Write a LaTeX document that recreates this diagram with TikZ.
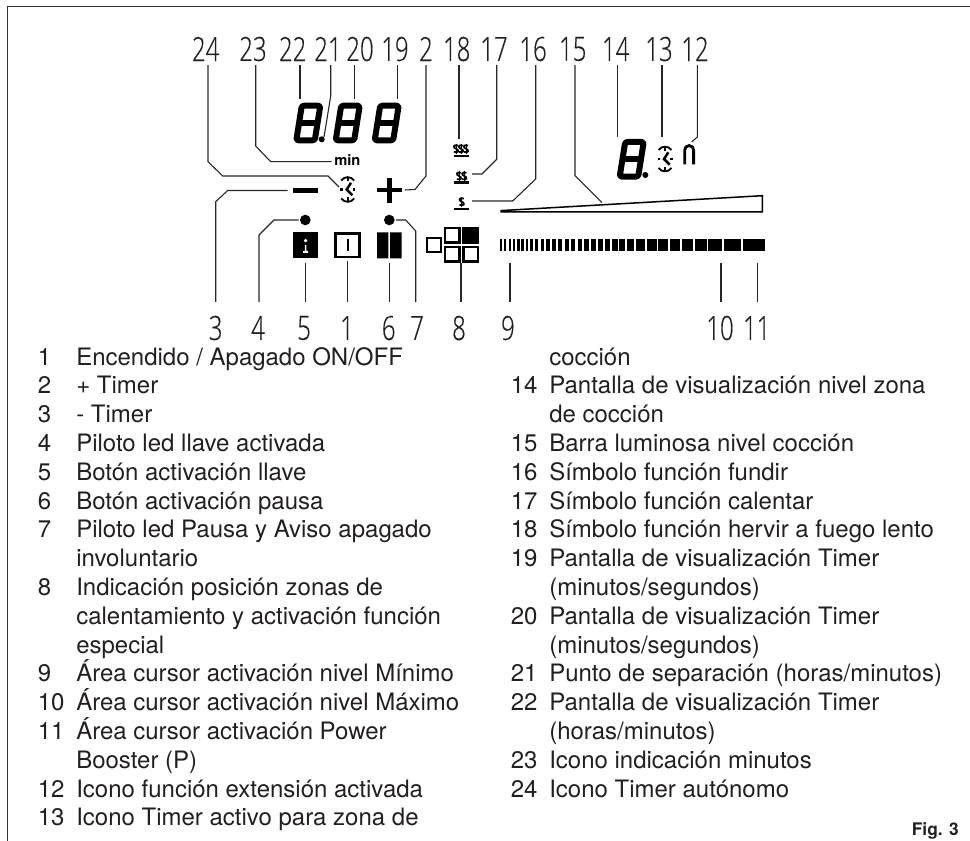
\documentclass[tikz,border=0pt]{standalone}
\usepackage{fontspec}
\setmainfont{TeX Gyre Heros}
\newfontfamily\callfont[FakeStretch=0.72, FakeBold=0.4]{Open Sans Light}
\usetikzlibrary{positioning}
\def\px{0.75pt}
\definecolor{tinta}{HTML}{231F20}
\tikzset{
  % marco de la figura
  marco/.style={line width=1.5*\px, black!80},
  % numeros de referencia
  callnum/.style={font=\callfont\fontsize{25}{25}\selectfont, inner sep=0pt, text=tinta},
  calltop/.style={callnum, outer sep=4*\px},
  callbot/.style={callnum, outer sep=14*\px},
  % lineas de referencia
  leader/.style={line width=1.1*\px, black!85},
  % lista de textos
  listnum/.style={anchor=base west, inner sep=0pt, font=\fontsize{18}{18}\selectfont, text=tinta},
  listtxt/.style={listnum},
  % iconos del panel
  solido/.style={fill=black, inner sep=0pt, draw=none},
  cuadro/.style={draw=black, fill=white, line width=2.3*\px, inner sep=0pt},
  led/.style={circle, fill=black, inner sep=0pt, minimum size=10.6*\px, outer sep=1.5*\px},
  seg/.style={line width=6*\px, rounded corners=2.2*\px, line join=round},
  ocho/.pic={
    \draw[seg] (8.5,3) -- (27,3) -- (21.5,37.6) -- (3,37.6) -- cycle;
    \draw[seg] (5.6,20.2) -- (24.3,20.2);
  },
  reloj/.pic={
    \draw[line width=1.8*\px] (-6.5,-9) .. controls (-3,-13.5) and (3,-13.5) .. (6.5,-9);
    \draw[line width=1.8*\px] (-6.5,9) .. controls (-3,13.5) and (3,13.5) .. (6.5,9);
    \draw[line width=1.8*\px] (0,-12) -- (0,-8) (0,12) -- (0,8);
    \draw[line width=2.2*\px] (-7.5,0) -- (-5.2,0) (5,0) -- (7.5,0);
    \draw[line width=2.5*\px] (3.3,-6.7) -- (-1,0) -- (4.7,5.7);
  },
  vapor/.pic={
    \draw[line width=1.8*\px] (2.2,-3.2) .. controls (-3.2,-4.6) and (-3,-1) .. (0,0) .. controls (3,1) and (3.2,4.6) .. (-2.2,3.2);
    \draw[line width=1*\px] (0,-5) -- (0,5);
  },
}
\begin{document}
\begin{tikzpicture}[x=\px, y=-\px]
  \useasboundingbox (0,0) rectangle (970,841);
  \draw[marco] (970,6.5) -- (7.5,6.5) -- (7.5,841);

  % numeros arriba y abajo
  \foreach \nr/\x in {24/205.7, 23/253, 22/292.7, 21/328, 20/360, 19/395, 2/426, 18/456.7,
    17/494, 16/533, 15/572.7, 14/615.7, 13/659, 12/695} {
    \node[calltop] (n\nr) at (\x,49) {\nr};
  }
  \foreach \nr/\x in {3/215.7, 4/258, 5/304, 1/347, 6/388.7, 7/417, 8/459, 9/508, 10/720, 11/756.7} {
    \node[callbot] (n\nr) at (\x,328) {\nr};
  }

  % pantallas
  \pic at (293.3,102.7) {ocho};
  \pic at (332.7,102.7) {ocho};
  \pic at (371.7,102.7) {ocho};
  \pic at (616.7,139) {ocho};
  \node[circle, fill=black, inner sep=0pt, minimum size=6*\px] (punto21) at (321.7,139.3) {};
  \node[circle, fill=black, inner sep=0pt, minimum size=6*\px] (punto14) at (645.3,175) {};
  \coordinate (d22) at (300,99);
  \coordinate (d20) at (354.7,99);
  \coordinate (d19) at (397.7,99);
  \coordinate (d14) at (617.3,137);
  \coordinate (t13) at (662,137);
  \coordinate (e12) at (691.7,142);

  % iconos timer
  \node[inner sep=0pt, font=\fontsize{11}{11}\selectfont\bfseries] (minutos) at (347.3,160.2) {min};
  \coordinate (min23) at (331.7,161.7);
  \pic at (347.7,189.5) {reloj};
  \pic at (665,159) {reloj};
  \coordinate (rel24) at (339,187);
  \node[solido, minimum width=25*\px, minimum height=4.3*\px, outer sep=5.6*\px] (menos) at (305.8,190.5) {};
  \node[solido, minimum width=25*\px, minimum height=4.6*\px, outer sep=3*\px] (mas) at (389.5,190) {};
  \fill (387.2,178) rectangle (391.8,202.7);
  \draw[line width=2.8*\px] (684.7,164.3) -- (684.7,150) arc[start angle=180, end angle=360, radius=4.45] -- (693.6,164.3);

  % simbolos de calor
  \foreach \x/\y in {456/148.8, 461/148.8, 466/148.8, 459/176, 464.3/176, 461.7/201.7} {
    \pic at (\x,\y) {vapor};
  }
  \foreach \y/\nr in {156/18, 182.7/17, 209/16} {
    \node[solido, minimum width=14.7*\px, minimum height=2.4*\px, anchor=center] (cal\nr) at (461.3,\y) {};
  }
  \coordinate (v18) at (459,139);
  \coordinate (v17) at (472,174);
  \coordinate (v16) at (472,201);

  % barra luminosa
  \draw[line width=1.5*\px, line join=miter] (501,210.6) -- (762.3,195.7) -- (762.3,212) -- (501,212) -- cycle;
  \coordinate (bar15) at (602,202.7);

  % botones
  \node[led] (led4) at (305.3,220) {};
  \node[led] (led7) at (389.3,220) {};
  \node[solido, minimum width=24.4*\px, minimum height=26*\px, outer sep=4.7*\px] (llave) at (305.5,245.3) {};
  \fill[white] (305.6,240.6) circle[radius=1.8*\px];
  \fill[white] (304.9,245) rectangle (306.3,251) (303.2,251) rectangle (308,253);
  \node[cuadro, line width=2.8*\px, minimum width=23.8*\px, minimum height=23.4*\px, outer sep=3.6*\px] (onoff) at (347.5,245.3) {};
  \fill (346.5,239) rectangle (349,251);
  \node[inner sep=0pt, minimum width=24.7*\px, minimum height=26*\px, outer sep=4.7*\px] (pausa) at (389.3,245.3) {};
  \fill (377,232.3) rectangle (388.3,258.3) (390,232.3) rectangle (401.7,258.3);

  % zonas de coccion
  \node[cuadro, minimum size=14.6*\px] (zona0) at (434,245) {};
  \node[cuadro, minimum size=14.6*\px] (zona1) at (452.3,235.3) {};
  \node[cuadro, minimum size=14.6*\px, fill=black] (zona2) at (470.8,235.3) {};
  \node[cuadro, minimum size=14.6*\px] (zona3) at (452.3,254.3) {};
  \node[cuadro, minimum size=14.6*\px] (zona4) at (470.8,254.3) {};
  \coordinate (zonas) at (461,263);

  % cursor
  \foreach \xa/\xb in {500/501.7, 504.3/506, 508.7/510.5, 513/515, 517.2/519.5, 521.2/523.8,
    525.6/528.4, 530.2/533.2, 535/538.2, 540.5/543.7, 546.3/549.7, 552.3/556, 558.3/562.3,
    564.6/568.8, 571/575.4, 577.6/582.2, 584.4/589.2, 591.3/596.2, 598/603, 604.8/610, 612/617.6,
    619.4/625, 626.9/634, 636/645, 646.7/656.7, 658.3/668, 670/680, 681.7/693.3, 695/706.7,
    708.3/721.7, 724/741, 743.3/765} {
    \fill (\xa,239) rectangle (\xb,250.8);
  }
  \coordinate (c9) at (510,263);
  \coordinate (c10) at (721,263);
  \coordinate (c11) at (757.7,263);

  % lineas de referencia
  \draw[leader] (n24.south -| 208,0) -- (208,161.7) -- (222.7,176) -- (328,176) -- (rel24);
  \draw[leader] (n23.south -| 255.7,0) -- (255.7,146) -- (270.7,161.7) -- (min23);
  \draw[leader] (n22.south -| d22) -- (d22);
  \draw[leader] (n21.south -| 330.7,0) -- (330.7,96) -- (punto21.north east);
  \draw[leader] (n20.south -| d20) -- (d20);
  \draw[leader] (n19.south -| d19) -- (d19);
  \draw[leader] (n2.south) -- (426,176) -- (415,189.5) -- (mas.east);
  \draw[leader] (n18.south -| v18) -- (v18);
  \draw[leader] (n17.south -| 496.7,0) -- (496.7,159.3) -- (482,174) -- (v17);
  \draw[leader] (n16.south -| 535.7,0) -- (535.7,179) -- (512.7,201) -- (v16);
  \draw[leader] (n15.south -| 575,0) -- (575,175.7) -- (bar15);
  \draw[leader] (n14.south -| d14) -- (d14);
  \draw[leader] (n13.south -| t13) -- (t13);
  \draw[leader] (n12.south -| 697.3,0) -- (697.3,137) -- (e12);
  \draw[leader] (n3.north) -- (215.7,201.7) -- (227.7,190.5) -- (menos.west);
  \draw[leader] (n4.north -| 259,0) -- (259,235) -- (274,220) -- (led4.west);
  \draw[leader] (n5.north -| llave.south) -- (llave.south);
  \draw[leader] (n1.north -| onoff.south) -- (onoff.south);
  \draw[leader] (n6.north -| pausa.south) -- (pausa.south);
  \draw[leader] (n7.north -| 415.7,0) -- (415.7,231) -- (405.7,220) -- (led7.east);
  \draw[leader] (n8.north -| zonas) -- (zonas);
  \draw[leader] (n9.north -| c9) -- (c9);
  \draw[leader] (n10.north -| c10) -- (c10);
  \draw[leader] (n11.north -| c11) -- (c11);

  % lista izquierda
  \foreach \i/\nr/\txt in {0/1/{Encendido / Apagado ON/OFF}, 1/2/{+ Timer}, 2/3/{- Timer},
    3/4/{Piloto led llave activada}, 4/5/{Botón activación llave}, 5/6/{Botón activación pausa},
    6/7/{Piloto led Pausa y Aviso apagado}, 8/8/{Indicación posición zonas de},
    11/9/{Área cursor activación nivel Mínimo}, 12/10/{Área cursor activación nivel Máximo},
    13/11/{Área cursor activación Power}, 15/12/{Icono función extensión activada},
    16/13/{Icono Timer activo para zona de}} {
    \node[listnum] (ln\nr) at (37.5,{365+28.8*\i}) {\nr};
    \node[listtxt] (lt\nr) at (76,{365+28.8*\i}) {\txt};
  }
  \foreach \i/\txt in {7/involuntario, 9/{calentamiento y activación función}, 10/especial, 14/{Booster (P)}} {
    \node[listtxt] (lc\i) at (76,{365+28.8*\i}) {\txt};
  }
  % lista derecha
  \foreach \i/\nr/\txt in {1/14/{Pantalla de visualización nivel zona}, 3/15/{Barra luminosa nivel cocción},
    4/16/{Símbolo función fundir}, 5/17/{Símbolo función calentar},
    6/18/{Símbolo función hervir a fuego lento}, 7/19/{Pantalla de visualización Timer},
    9/20/{Pantalla de visualización Timer}, 11/21/{Punto de separación (horas/minutos)},
    12/22/{Pantalla de visualización Timer}, 14/23/{Icono indicación minutos},
    15/24/{Icono Timer autónomo}} {
    \node[listnum] (rn\nr) at (510.5,{365+28.8*\i}) {\nr};
    \node[listtxt] (rt\nr) at (549,{365+28.8*\i}) {\txt};
  }
  \foreach \i/\txt in {0/cocción, 2/{de cocción}, 8/{(minutos/segundos)}, 10/{(minutos/segundos)}, 13/{(horas/minutos)}} {
    \node[listtxt] (rc\i) at (549,{365+28.8*\i}) {\txt};
  }
  \node[anchor=base east, inner sep=0pt, font=\fontsize{13}{13}\selectfont\bfseries, text=tinta] (fig) at (959,835) {Fig. 3};
\end{tikzpicture}
\end{document}
